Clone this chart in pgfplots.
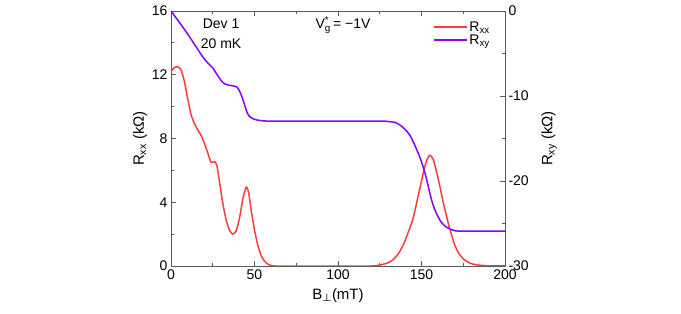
\documentclass[border=0pt]{standalone}
\usepackage{pgfplots}
\pgfplotsset{compat=1.18}
\usepackage{fontspec}
\setmainfont{Liberation Sans}
\newfontfamily\dejavu{DejaVu Sans}
\definecolor{cred}{RGB}{255,60,60}
\definecolor{cpur}{RGB}{135,0,255}
\definecolor{axgray}{RGB}{90,90,90}
\pgfplotsset{longleg/.style={legend image code/.code={\draw[##1] (0bp,0bp) -- (33bp,0bp);}}}
\begin{document}
\begin{tikzpicture}
\path[use as bounding box] (0,0) rectangle (681bp,314bp);
\pgfplotsset{
  common/.style={
    at={(171bp,48bp)}, anchor=south west,
    scale only axis, width=334bp, height=255bp,
    xmin=0, xmax=200,
    /pgf/number format/assume math mode=true,
    tick label style={font=\fontsize{14bp}{16bp}\selectfont},
    label style={font=\fontsize{15bp}{18bp}\selectfont},
    tick align=inside,
    major tick length=5bp, minor tick length=3bp,
    axis line style={axgray, line width=0.8bp},
    every tick/.style={axgray, line width=0.8bp},
  }
}
\begin{axis}[common,
  ymin=0, ymax=16,
  xtick={0,50,100,150,200},
  minor xtick={25,75,125,175},
  ytick={0,4,8,12,16},
  minor ytick={2,6,10,14},
  xtick pos=both, ytick pos=left,
  xlabel={B\textsubscript{\dejavu ⊥}(mT)},
  ylabel={R\textsubscript{xx} (kΩ)},
  xlabel style={yshift=-2bp},
  ylabel style={yshift=-2bp},
]
\addplot[cred, line width=1.5bp, smooth, tension=0.4] coordinates {
(0,12.2) (2,12.45) (4,12.5) (6,12.3) (8,11.6) (10,10.5) (12,9.5) (14,8.95)
(16,8.55) (18,8.2) (20,7.7) (22,7.1) (24,6.5) (26,6.55) (27.5,6.3) (29,5.3)
(31,3.95) (33,2.9) (35,2.25) (37,2.0) (39,2.2) (41,3.0) (43,4.2) (45,4.95)
(46.5,4.6) (48,3.5) (50,2.26) (52,1.3) (54,0.65) (56,0.3) (58,0.12) (60,0.03)
(62,0.0) (80,0) (100,0) (120,0.0) (125,0.06) (130,0.2) (133,0.4) (136,0.75)
(139,1.3) (142,2.1) (145,3.0) (148,4.4) (151,5.8) (153,6.6) (155,6.95)
(157,6.7) (159,5.9) (161,5.0) (163,4.0) (166,2.7) (168,1.95) (170,1.3)
(172,0.85) (175,0.45) (179,0.18) (183,0.07) (190,0.01) (200,0)
};
\node[align=center, font=\fontsize{14bp}{20bp}\selectfont] at (rel axis cs:0.15,0.91) {Dev 1\\20 mK};
\node[font=\fontsize{14bp}{16bp}\selectfont] at (rel axis cs:0.515,0.945) {V\rlap{\textsuperscript{*}}\textsubscript{g}\,= −1V};
\end{axis}
\begin{axis}[common,
  ymin=-30, ymax=0,
  axis x line=none,
  axis y line*=right,
  ytick={-30,-20,-10,0},
  minor ytick={-25,-15,-5},
  ylabel={R\textsubscript{xy} (kΩ)},
  ylabel style={yshift=-6bp},
  legend style={draw=none, fill=none, at={(0.97,0.975)}, anchor=north east,
    font=\fontsize{14bp}{16bp}\selectfont, row sep=-2bp},
  legend cell align=left,
  longleg,
]
\addlegendimage{cred, line width=1.5bp}
\addlegendentry{R\textsubscript{xx}}
\addplot[cpur, line width=1.5bp, smooth, tension=0.4] coordinates {
(0,0) (3,-0.8) (6,-1.6) (9.6,-2.6) (13,-3.6) (16,-4.5) (19,-5.4) (22,-6.1)
(25,-6.7) (27,-7.3) (29,-7.9) (30.5,-8.3) (32,-8.55) (34,-8.7) (37,-8.8)
(39.5,-8.95) (41,-9.4) (42.5,-10.1) (44,-11.0) (45.5,-11.9) (47,-12.4)
(50,-12.75) (54,-12.9) (60,-12.95) (100,-12.95) (125,-12.95) (130,-13.0)
(134,-13.1) (137,-13.4) (140,-13.9) (143,-14.6) (146,-15.8) (149,-17.2)
(152,-19.0) (154,-20.6) (156,-22.2) (158,-23.4) (161,-24.6) (164,-25.3)
(167,-25.65) (170,-25.85) (175,-25.9) (200,-25.9)
};
\addlegendentry{R\textsubscript{xy}}
\end{axis}
\end{tikzpicture}
\end{document}
